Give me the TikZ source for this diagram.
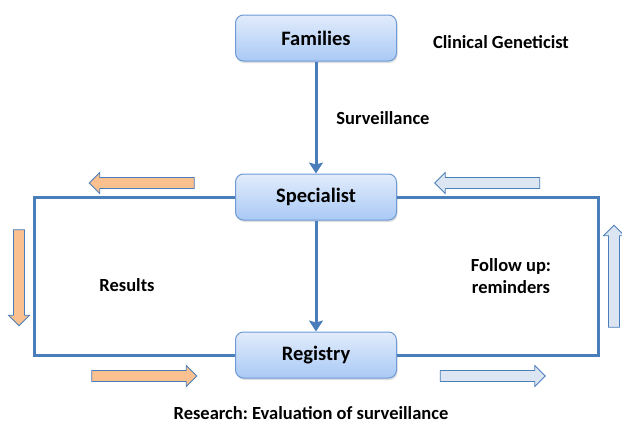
\documentclass[tikz,border=0pt]{standalone}
\usepackage{fontspec}
\setmainfont{Carlito}
\frenchspacing
\usetikzlibrary{arrows.meta,shapes.arrows,shadows}
\definecolor{linkblue}{HTML}{4A7EBB}
\definecolor{boxtop}{HTML}{E2ECFB}
\definecolor{boxbot}{HTML}{A9C9F5}
\definecolor{boxline}{HTML}{6E9AD6}
\definecolor{orangefill}{HTML}{FAC090}
\definecolor{paleblue}{HTML}{DCE6F2}
\tikzset{
  stagebox/.style={draw=boxline, line width=1pt, rounded corners=8pt,
    top color=boxtop, bottom color=boxbot,
    minimum width=161pt, minimum height=46pt,
    font=\fontsize{20.5}{24}\selectfont\bfseries,
    drop shadow={shadow xshift=1pt, shadow yshift=-2pt, opacity=0.25}},
  note/.style={font=\fontsize{18.5}{22}\selectfont\bfseries, align=center},
  link/.style={draw=linkblue, line width=3pt},
  flow/.style={link, -{Stealth[length=11pt,width=14pt,inset=2pt]}},
  blockarrow/.style={single arrow, draw=linkblue, line width=0.8pt,
    inner sep=5pt, minimum width=21pt, single arrow head extend=5pt,
    single arrow head indent=0pt, minimum height=#1},
  resarrow/.style={blockarrow=105pt, fill=orangefill},
  remarrow/.style={blockarrow=105pt, fill=paleblue}
}
\begin{document}
\begin{tikzpicture}[x=1pt,y=-1pt]
  \useasboundingbox (0,0) rectangle (622,424);

  % the three stages
  \node[stagebox] (fam) at (316,38) {Families};
  \node[stagebox] (spec) at (316,197) {Specialist};
  \node[stagebox] (reg) at (316,355) {Registry};

  \draw[flow] (fam) -- (spec);
  \draw[flow] (spec) -- (reg);

  % loops on both sides
  \draw[link] (spec.west) -- ++(-201,0) |- (reg.west);
  \draw[link] (spec.east) -- ++(201,0) |- (reg.east);

  % block arrows: results
  \node[resarrow, shape border rotate=180] (resa) at (144.5,183) {};
  \node[resarrow, shape border rotate=270, blockarrow=96pt] (resb) at (19,275) {};
  \node[resarrow] (resc) at (141.5,376) {};

  % block arrows: reminders
  \node[remarrow, shape border rotate=180] (rema) at (490,183) {};
  \node[remarrow, shape border rotate=90, blockarrow=102pt] (remb) at (614,279) {};
  \node[remarrow] (remc) at (490,376) {};

  % labels
  \node[note] (gen) at (501,42) {Clinical Geneticist};
  \node[note] (surv) at (383,118) {Surveillance};
  \node[note] (res) at (127,285) {Results};
  \node[note] (fol) at (511,276) {Follow up:\\reminders};
  \node[note] (eval) at (311,413) {Research: Evaluation of surveillance};
\end{tikzpicture}
\end{document}
